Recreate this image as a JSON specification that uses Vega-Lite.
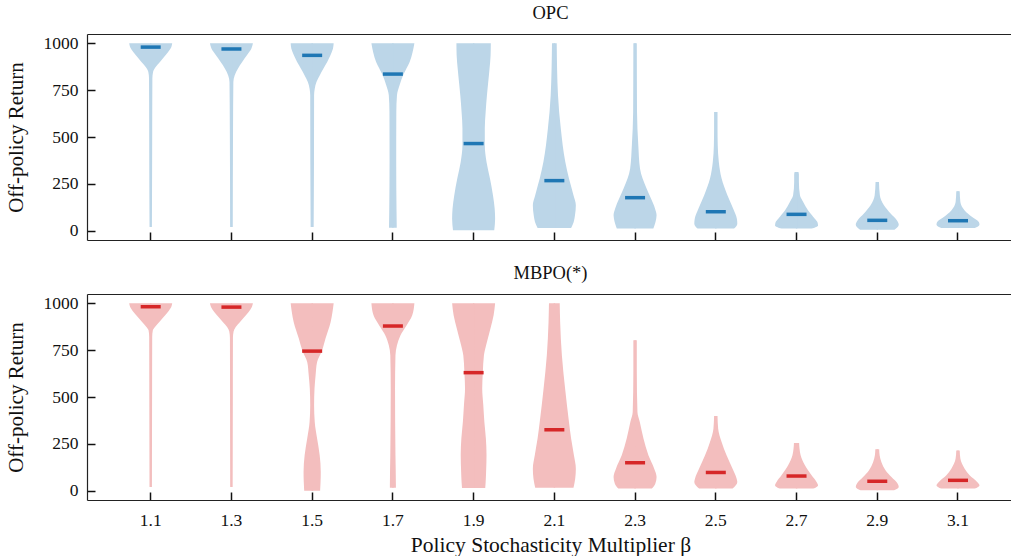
{
  "$schema": "https://vega.github.io/schema/vega-lite/v6.json",
  "padding": {"left": 5, "top": 3, "right": 0, "bottom": 0},
  "spacing": 54,
  "bounds": "flush",
  "config": {
    "font": "Liberation Serif",
    "view": {"stroke": null},
    "axis": {"domainColor": "#222", "domainWidth": 1.2, "tickColor": "#111", "tickWidth": 1.5, "tickSize": -8, "grid": false, "labelFont": "Liberation Serif", "labelFontSize": 17.5, "labelColor": "#111", "titleFont": "Liberation Serif", "titleFontSize": 21, "titleFontWeight": "normal", "titleColor": "#111"},
    "title": {"font": "Liberation Serif", "fontSize": 18.5, "fontWeight": "normal", "color": "#111"}
  },
  "datasets": {
    "v": [
      {"m":"OPC","b":1.1,"r":1000,"d":1.0},{"m":"OPC","b":1.1,"r":981,"d":0.96},{"m":"OPC","b":1.1,"r":954,"d":0.81},{"m":"OPC","b":1.1,"r":927,"d":0.62},{"m":"OPC","b":1.1,"r":901,"d":0.43},{"m":"OPC","b":1.1,"r":874,"d":0.23},{"m":"OPC","b":1.1,"r":847,"d":0.11},{"m":"OPC","b":1.1,"r":812,"d":0.078},{"m":"OPC","b":1.1,"r":545,"d":0.07},{"m":"OPC","b":1.1,"r":189,"d":0.062},{"m":"OPC","b":1.1,"r":20,"d":0.054},
      {"m":"OPC","b":1.3,"r":1000,"d":1.0},{"m":"OPC","b":1.3,"r":972,"d":0.93},{"m":"OPC","b":1.3,"r":936,"d":0.72},{"m":"OPC","b":1.3,"r":901,"d":0.5},{"m":"OPC","b":1.3,"r":865,"d":0.3},{"m":"OPC","b":1.3,"r":829,"d":0.15},{"m":"OPC","b":1.3,"r":794,"d":0.09},{"m":"OPC","b":1.3,"r":545,"d":0.075},{"m":"OPC","b":1.3,"r":20,"d":0.06},
      {"m":"OPC","b":1.5,"r":1000,"d":1.0},{"m":"OPC","b":1.5,"r":972,"d":0.97},{"m":"OPC","b":1.5,"r":936,"d":0.85},{"m":"OPC","b":1.5,"r":901,"d":0.7},{"m":"OPC","b":1.5,"r":865,"d":0.52},{"m":"OPC","b":1.5,"r":829,"d":0.35},{"m":"OPC","b":1.5,"r":794,"d":0.2},{"m":"OPC","b":1.5,"r":758,"d":0.12},{"m":"OPC","b":1.5,"r":723,"d":0.09},{"m":"OPC","b":1.5,"r":367,"d":0.085},{"m":"OPC","b":1.5,"r":20,"d":0.07},
      {"m":"OPC","b":1.7,"r":1000,"d":1.0},{"m":"OPC","b":1.7,"r":901,"d":0.78},{"m":"OPC","b":1.7,"r":836,"d":0.5},{"m":"OPC","b":1.7,"r":776,"d":0.31},{"m":"OPC","b":1.7,"r":723,"d":0.19},{"m":"OPC","b":1.7,"r":634,"d":0.16},{"m":"OPC","b":1.7,"r":367,"d":0.155},{"m":"OPC","b":1.7,"r":100,"d":0.17},{"m":"OPC","b":1.7,"r":16,"d":0.18},
      {"m":"OPC","b":1.9,"r":1000,"d":0.8},{"m":"OPC","b":1.9,"r":936,"d":0.79},{"m":"OPC","b":1.9,"r":865,"d":0.74},{"m":"OPC","b":1.9,"r":794,"d":0.68},{"m":"OPC","b":1.9,"r":723,"d":0.62},{"m":"OPC","b":1.9,"r":634,"d":0.56},{"m":"OPC","b":1.9,"r":545,"d":0.52},{"m":"OPC","b":1.9,"r":456,"d":0.52},{"m":"OPC","b":1.9,"r":367,"d":0.6},{"m":"OPC","b":1.9,"r":278,"d":0.76},{"m":"OPC","b":1.9,"r":189,"d":0.9},{"m":"OPC","b":1.9,"r":117,"d":0.98},{"m":"OPC","b":1.9,"r":64,"d":1.0},{"m":"OPC","b":1.9,"r":2,"d":0.96},
      {"m":"OPC","b":2.1,"r":1000,"d":0.11},{"m":"OPC","b":2.1,"r":723,"d":0.17},{"m":"OPC","b":2.1,"r":545,"d":0.3},{"m":"OPC","b":2.1,"r":367,"d":0.51},{"m":"OPC","b":2.1,"r":278,"d":0.68},{"m":"OPC","b":2.1,"r":189,"d":0.89},{"m":"OPC","b":2.1,"r":135,"d":1.0},{"m":"OPC","b":2.1,"r":82,"d":0.96},{"m":"OPC","b":2.1,"r":46,"d":0.9},{"m":"OPC","b":2.1,"r":14,"d":0.78},
      {"m":"OPC","b":2.3,"r":1000,"d":0.08},{"m":"OPC","b":2.3,"r":634,"d":0.09},{"m":"OPC","b":2.3,"r":456,"d":0.15},{"m":"OPC","b":2.3,"r":331,"d":0.23},{"m":"OPC","b":2.3,"r":278,"d":0.35},{"m":"OPC","b":2.3,"r":224,"d":0.54},{"m":"OPC","b":2.3,"r":171,"d":0.74},{"m":"OPC","b":2.3,"r":117,"d":0.93},{"m":"OPC","b":2.3,"r":82,"d":1.0},{"m":"OPC","b":2.3,"r":46,"d":0.95},{"m":"OPC","b":2.3,"r":11,"d":0.85},
      {"m":"OPC","b":2.5,"r":634,"d":0.08},{"m":"OPC","b":2.5,"r":545,"d":0.08},{"m":"OPC","b":2.5,"r":456,"d":0.09},{"m":"OPC","b":2.5,"r":367,"d":0.14},{"m":"OPC","b":2.5,"r":278,"d":0.27},{"m":"OPC","b":2.5,"r":189,"d":0.54},{"m":"OPC","b":2.5,"r":117,"d":0.81},{"m":"OPC","b":2.5,"r":64,"d":0.98},{"m":"OPC","b":2.5,"r":37,"d":1.0},{"m":"OPC","b":2.5,"r":11,"d":0.85},
      {"m":"OPC","b":2.7,"r":313,"d":0.09},{"m":"OPC","b":2.7,"r":300,"d":0.11},{"m":"OPC","b":2.7,"r":260,"d":0.11},{"m":"OPC","b":2.7,"r":189,"d":0.16},{"m":"OPC","b":2.7,"r":153,"d":0.31},{"m":"OPC","b":2.7,"r":108,"d":0.54},{"m":"OPC","b":2.7,"r":64,"d":0.85},{"m":"OPC","b":2.7,"r":46,"d":0.97},{"m":"OPC","b":2.7,"r":28,"d":1.0},{"m":"OPC","b":2.7,"r":11,"d":0.7},
      {"m":"OPC","b":2.9,"r":260,"d":0.08},{"m":"OPC","b":2.9,"r":189,"d":0.12},{"m":"OPC","b":2.9,"r":135,"d":0.31},{"m":"OPC","b":2.9,"r":91,"d":0.62},{"m":"OPC","b":2.9,"r":55,"d":0.91},{"m":"OPC","b":2.9,"r":32,"d":1.0},{"m":"OPC","b":2.9,"r":5,"d":0.8},
      {"m":"OPC","b":3.1,"r":210,"d":0.08},{"m":"OPC","b":3.1,"r":153,"d":0.11},{"m":"OPC","b":3.1,"r":108,"d":0.31},{"m":"OPC","b":3.1,"r":73,"d":0.66},{"m":"OPC","b":3.1,"r":46,"d":0.97},{"m":"OPC","b":3.1,"r":32,"d":1.0},{"m":"OPC","b":3.1,"r":14,"d":0.78},
      {"m":"MBPO","b":1.1,"r":1000,"d":1.0},{"m":"MBPO","b":1.1,"r":982,"d":0.96},{"m":"MBPO","b":1.1,"r":954,"d":0.8},{"m":"MBPO","b":1.1,"r":927,"d":0.6},{"m":"MBPO","b":1.1,"r":901,"d":0.4},{"m":"MBPO","b":1.1,"r":874,"d":0.2},{"m":"MBPO","b":1.1,"r":856,"d":0.1},{"m":"MBPO","b":1.1,"r":820,"d":0.07},{"m":"MBPO","b":1.1,"r":545,"d":0.065},{"m":"MBPO","b":1.1,"r":20,"d":0.055},
      {"m":"MBPO","b":1.3,"r":1000,"d":1.0},{"m":"MBPO","b":1.3,"r":980,"d":0.95},{"m":"MBPO","b":1.3,"r":954,"d":0.8},{"m":"MBPO","b":1.3,"r":927,"d":0.6},{"m":"MBPO","b":1.3,"r":901,"d":0.4},{"m":"MBPO","b":1.3,"r":874,"d":0.2},{"m":"MBPO","b":1.3,"r":850,"d":0.1},{"m":"MBPO","b":1.3,"r":815,"d":0.07},{"m":"MBPO","b":1.3,"r":545,"d":0.065},{"m":"MBPO","b":1.3,"r":20,"d":0.055},
      {"m":"MBPO","b":1.5,"r":1000,"d":1.0},{"m":"MBPO","b":1.5,"r":901,"d":0.86},{"m":"MBPO","b":1.5,"r":812,"d":0.62},{"m":"MBPO","b":1.5,"r":745,"d":0.45},{"m":"MBPO","b":1.5,"r":687,"d":0.23},{"m":"MBPO","b":1.5,"r":616,"d":0.16},{"m":"MBPO","b":1.5,"r":545,"d":0.11},{"m":"MBPO","b":1.5,"r":456,"d":0.09},{"m":"MBPO","b":1.5,"r":367,"d":0.12},{"m":"MBPO","b":1.5,"r":278,"d":0.23},{"m":"MBPO","b":1.5,"r":189,"d":0.35},{"m":"MBPO","b":1.5,"r":100,"d":0.4},{"m":"MBPO","b":1.5,"r":46,"d":0.39},{"m":"MBPO","b":1.5,"r":0,"d":0.37},
      {"m":"MBPO","b":1.7,"r":1000,"d":1.0},{"m":"MBPO","b":1.7,"r":936,"d":0.9},{"m":"MBPO","b":1.7,"r":879,"d":0.62},{"m":"MBPO","b":1.7,"r":829,"d":0.35},{"m":"MBPO","b":1.7,"r":776,"d":0.19},{"m":"MBPO","b":1.7,"r":723,"d":0.12},{"m":"MBPO","b":1.7,"r":545,"d":0.1},{"m":"MBPO","b":1.7,"r":189,"d":0.12},{"m":"MBPO","b":1.7,"r":28,"d":0.14},{"m":"MBPO","b":1.7,"r":16,"d":0.14},
      {"m":"MBPO","b":1.9,"r":1000,"d":1.0},{"m":"MBPO","b":1.9,"r":936,"d":0.93},{"m":"MBPO","b":1.9,"r":865,"d":0.78},{"m":"MBPO","b":1.9,"r":794,"d":0.62},{"m":"MBPO","b":1.9,"r":723,"d":0.48},{"m":"MBPO","b":1.9,"r":634,"d":0.43},{"m":"MBPO","b":1.9,"r":545,"d":0.4},{"m":"MBPO","b":1.9,"r":456,"d":0.45},{"m":"MBPO","b":1.9,"r":367,"d":0.5},{"m":"MBPO","b":1.9,"r":278,"d":0.57},{"m":"MBPO","b":1.9,"r":189,"d":0.6},{"m":"MBPO","b":1.9,"r":100,"d":0.58},{"m":"MBPO","b":1.9,"r":46,"d":0.56},{"m":"MBPO","b":1.9,"r":14,"d":0.54},
      {"m":"MBPO","b":2.1,"r":1000,"d":0.25},{"m":"MBPO","b":2.1,"r":901,"d":0.27},{"m":"MBPO","b":2.1,"r":723,"d":0.35},{"m":"MBPO","b":2.1,"r":545,"d":0.5},{"m":"MBPO","b":2.1,"r":367,"d":0.68},{"m":"MBPO","b":2.1,"r":278,"d":0.78},{"m":"MBPO","b":2.1,"r":189,"d":0.91},{"m":"MBPO","b":2.1,"r":117,"d":1.0},{"m":"MBPO","b":2.1,"r":64,"d":0.97},{"m":"MBPO","b":2.1,"r":16,"d":0.89},
      {"m":"MBPO","b":2.3,"r":803,"d":0.08},{"m":"MBPO","b":2.3,"r":634,"d":0.08},{"m":"MBPO","b":2.3,"r":420,"d":0.11},{"m":"MBPO","b":2.3,"r":367,"d":0.22},{"m":"MBPO","b":2.3,"r":278,"d":0.39},{"m":"MBPO","b":2.3,"r":189,"d":0.62},{"m":"MBPO","b":2.3,"r":117,"d":0.89},{"m":"MBPO","b":2.3,"r":73,"d":1.0},{"m":"MBPO","b":2.3,"r":37,"d":0.94},{"m":"MBPO","b":2.3,"r":11,"d":0.78},
      {"m":"MBPO","b":2.5,"r":399,"d":0.08},{"m":"MBPO","b":2.5,"r":331,"d":0.11},{"m":"MBPO","b":2.5,"r":260,"d":0.27},{"m":"MBPO","b":2.5,"r":189,"d":0.5},{"m":"MBPO","b":2.5,"r":117,"d":0.78},{"m":"MBPO","b":2.5,"r":64,"d":0.97},{"m":"MBPO","b":2.5,"r":46,"d":1.0},{"m":"MBPO","b":2.5,"r":11,"d":0.78},
      {"m":"MBPO","b":2.7,"r":255,"d":0.12},{"m":"MBPO","b":2.7,"r":224,"d":0.14},{"m":"MBPO","b":2.7,"r":189,"d":0.19},{"m":"MBPO","b":2.7,"r":135,"d":0.39},{"m":"MBPO","b":2.7,"r":82,"d":0.7},{"m":"MBPO","b":2.7,"r":46,"d":0.93},{"m":"MBPO","b":2.7,"r":28,"d":1.0},{"m":"MBPO","b":2.7,"r":11,"d":0.78},
      {"m":"MBPO","b":2.9,"r":221,"d":0.09},{"m":"MBPO","b":2.9,"r":189,"d":0.11},{"m":"MBPO","b":2.9,"r":153,"d":0.19},{"m":"MBPO","b":2.9,"r":108,"d":0.39},{"m":"MBPO","b":2.9,"r":73,"d":0.66},{"m":"MBPO","b":2.9,"r":37,"d":0.95},{"m":"MBPO","b":2.9,"r":20,"d":1.0},{"m":"MBPO","b":2.9,"r":2,"d":0.78},
      {"m":"MBPO","b":3.1,"r":214,"d":0.08},{"m":"MBPO","b":3.1,"r":171,"d":0.11},{"m":"MBPO","b":3.1,"r":117,"d":0.31},{"m":"MBPO","b":3.1,"r":82,"d":0.54},{"m":"MBPO","b":3.1,"r":46,"d":0.89},{"m":"MBPO","b":3.1,"r":28,"d":1.0},{"m":"MBPO","b":3.1,"r":11,"d":0.78}
    ],
    "med": [
      {"m":"OPC","b":1.1,"med":980},{"m":"OPC","b":1.3,"med":970},{"m":"OPC","b":1.5,"med":936},{"m":"OPC","b":1.7,"med":836},{"m":"OPC","b":1.9,"med":465},{"m":"OPC","b":2.1,"med":267},{"m":"OPC","b":2.3,"med":176},{"m":"OPC","b":2.5,"med":101},{"m":"OPC","b":2.7,"med":87},{"m":"OPC","b":2.9,"med":55},{"m":"OPC","b":3.1,"med":53},
      {"m":"MBPO","b":1.1,"med":982},{"m":"MBPO","b":1.3,"med":980},{"m":"MBPO","b":1.5,"med":745},{"m":"MBPO","b":1.7,"med":879},{"m":"MBPO","b":1.9,"med":630},{"m":"MBPO","b":2.1,"med":325},{"m":"MBPO","b":2.3,"med":149},{"m":"MBPO","b":2.5,"med":97},{"m":"MBPO","b":2.7,"med":78},{"m":"MBPO","b":2.9,"med":50},{"m":"MBPO","b":3.1,"med":55}
    ]
  },
  "vconcat": [
    {
      "title": {"text": "OPC", "offset": 12},
      "width": 927,
      "height": 206,
      "resolve": {"scale": {"xOffset": "independent"}, "axis": {"x": "independent"}},
      "layer": [
        {
          "data": {"name": "v"},
          "transform": [{"filter": {"field": "m", "equal": "OPC"}}],
          "mark": {"type": "area", "orient": "horizontal", "interpolate": "monotone", "color": "#bcd6e8", "opacity": 1, "x2Offset": -0.7},
          "encoding": {
            "y": {"field": "r", "type": "quantitative", "stack": null, "title": "Off-policy Return", "scale": {"domain": [-50, 1050], "nice": false, "zero": false}, "axis": {"values": [0, 250, 500, 750, 1000], "format": "d", "labelPadding": 17, "titlePadding": 17}},
            "x": {"field": "b", "type": "ordinal", "scale": {"paddingInner": 0, "paddingOuter": 0.2414, "align": 0.5987}, "axis": {"labels": false, "title": null}},
            "x2": {"field": "b"},
            "xOffset": {"field": "d", "type": "quantitative", "scale": {"domain": [0, 1], "range": [40.365, 61.865]}},
            "detail": {"field": "b", "type": "nominal"}
          }
        },
        {
          "data": {"name": "v"},
          "transform": [{"filter": {"field": "m", "equal": "OPC"}}],
          "mark": {"type": "area", "orient": "horizontal", "interpolate": "monotone", "color": "#bcd6e8", "opacity": 1, "x2Offset": 0.7},
          "encoding": {
            "y": {"field": "r", "type": "quantitative", "stack": null, "title": "Off-policy Return"},
            "x": {"field": "b", "type": "ordinal", "axis": null},
            "x2": {"field": "b"},
            "xOffset": {"field": "d", "type": "quantitative", "scale": {"domain": [0, 1], "range": [40.365, 18.865]}},
            "detail": {"field": "b", "type": "nominal"}
          }
        },
        {
          "data": {"name": "med"},
          "transform": [{"filter": {"field": "m", "equal": "OPC"}}],
          "mark": {"type": "tick", "orient": "horizontal", "size": 20, "thickness": 3.5, "color": "#1f77b4", "opacity": 1},
          "encoding": {
            "y": {"field": "med", "type": "quantitative", "title": "Off-policy Return"},
            "x": {"field": "b", "type": "ordinal", "axis": {"orient": "top", "ticks": false, "labels": false, "title": null, "domain": true}}
          }
        }
      ]
    },
    {
      "title": {"text": "MBPO(*)", "offset": 12},
      "width": 927,
      "height": 206,
      "resolve": {"scale": {"xOffset": "independent"}, "axis": {"x": "independent"}},
      "layer": [
        {
          "data": {"name": "v"},
          "transform": [{"filter": {"field": "m", "equal": "MBPO"}}],
          "mark": {"type": "area", "orient": "horizontal", "interpolate": "monotone", "color": "#f3bebe", "opacity": 1, "x2Offset": -0.7},
          "encoding": {
            "y": {"field": "r", "type": "quantitative", "stack": null, "title": "Off-policy Return", "scale": {"domain": [-50, 1050], "nice": false, "zero": false}, "axis": {"values": [0, 250, 500, 750, 1000], "format": "d", "labelPadding": 17, "titlePadding": 17}},
            "x": {"field": "b", "type": "ordinal", "scale": {"paddingInner": 0, "paddingOuter": 0.2414, "align": 0.5987}, "axis": {"labelPadding": 19, "labelAngle": 0, "title": "Policy Stochasticity Multiplier β", "titlePadding": 6, "titleFontSize": 21.5}},
            "x2": {"field": "b"},
            "xOffset": {"field": "d", "type": "quantitative", "scale": {"domain": [0, 1], "range": [40.365, 61.865]}},
            "detail": {"field": "b", "type": "nominal"}
          }
        },
        {
          "data": {"name": "v"},
          "transform": [{"filter": {"field": "m", "equal": "MBPO"}}],
          "mark": {"type": "area", "orient": "horizontal", "interpolate": "monotone", "color": "#f3bebe", "opacity": 1, "x2Offset": 0.7},
          "encoding": {
            "y": {"field": "r", "type": "quantitative", "stack": null, "title": "Off-policy Return"},
            "x": {"field": "b", "type": "ordinal", "axis": null},
            "x2": {"field": "b"},
            "xOffset": {"field": "d", "type": "quantitative", "scale": {"domain": [0, 1], "range": [40.365, 18.865]}},
            "detail": {"field": "b", "type": "nominal"}
          }
        },
        {
          "data": {"name": "med"},
          "transform": [{"filter": {"field": "m", "equal": "MBPO"}}],
          "mark": {"type": "tick", "orient": "horizontal", "size": 20, "thickness": 3.5, "color": "#d62728", "opacity": 1},
          "encoding": {
            "y": {"field": "med", "type": "quantitative", "title": "Off-policy Return"},
            "x": {"field": "b", "type": "ordinal", "axis": {"orient": "top", "ticks": false, "labels": false, "title": null, "domain": true}}
          }
        }
      ]
    }
  ]
}
